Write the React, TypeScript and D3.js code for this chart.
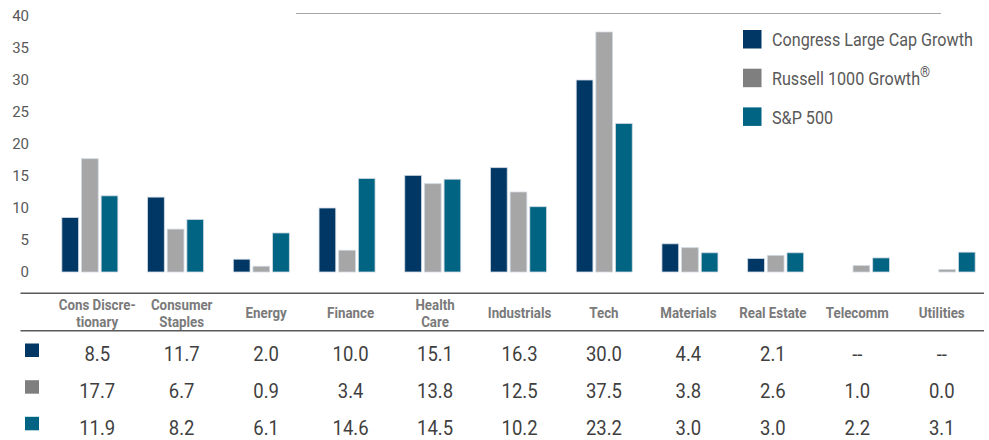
import React from "react";
import * as d3 from "d3";

const categories = ["Cons Discretionary", "Consumer Staples", "Energy", "Finance", "Health Care", "Industrials", "Tech", "Materials", "Real Estate", "Telecomm", "Utilities"];
const headerLines = [["Cons Discre-", "tionary"], ["Consumer", "Staples"], ["Energy"], ["Finance"], ["Health", "Care"], ["Industrials"], ["Tech"], ["Materials"], ["Real Estate"], ["Telecomm"], ["Utilities"]];
const seriesNames = ["Congress Large Cap Growth", "Russell 1000 Growth", "S&P 500"];
const congress: (number | null)[] = [8.5, 11.7, 2.0, 10.0, 15.1, 16.3, 30.0, 4.4, 2.1, null, null];
const russell: (number | null)[] = [17.7, 6.7, 0.9, 3.4, 13.8, 12.5, 37.5, 3.8, 2.6, 1.0, 0.0];
const sp500: (number | null)[] = [11.9, 8.2, 6.1, 14.6, 14.5, 10.2, 23.2, 3.0, 3.0, 2.2, 3.1];
const yTicks = [0, 5, 10, 15, 20, 25, 30, 35, 40];

const barColors = ["#003764", "#a6a6a6", "#006482"];
const swatchColors = ["#003764", "#7f7f7f", "#006482"];
const FONT = "Roboto, 'Noto Sans', sans-serif";

export default function App() {
  const W = 989, H = 440;
  const series = [congress, russell, sp500];
  const y = d3.scaleLinear().domain([0, 40]).range([272, 16]);
  const x0 = d3.scaleBand<string>().domain(categories).range([47, 990]).padding(0);
  const x1 = d3.scaleBand<string>().domain(seriesNames).range([-28, 28]).paddingInner(0.15);
  const xt = d3.scaleBand<string>().domain(categories).range([55, 984]).padding(0);
  const rowY = [354, 390.7, 427.3];
  const fmt = (v: number | null) => (v === null ? "--" : d3.format(".1f")(v));

  return (
    <svg width={W} height={H} style={{ position: "absolute", left: 0, top: 0, background: "#fff" }} fontFamily={FONT}>
      {/* top decorative line */}
      <line x1={296} x2={941} y1={13.5} y2={13.5} stroke="#a6a6a6" strokeWidth={1} />
      {/* y ticks */}
      {yTicks.map((t) => (
        <text key={t} x={29} y={y(t)} dy="0.35em" textAnchor="end" fontSize={15} fill="#595959">
          {t}
        </text>
      ))}
      {/* bars */}
      {categories.map((c, i) => (
        <g key={c} transform={`translate(${x0(c)! + x0.bandwidth() / 2},0)`}>
          {series.map((s, j) => {
            const v = s[i];
            if (v === null) return null;
            const top = Math.min(y(v), y(0) - 2.5);
            return (
              <rect
                key={j}
                x={x1(seriesNames[j])!}
                width={x1.bandwidth()}
                y={top}
                height={y(0) - top}
                fill={barColors[j]}
                stroke="#cfd8e2"
                strokeWidth={0.8}
              />
            );
          })}
        </g>
      ))}
      {/* legend */}
      {seriesNames.map((n, j) => (
        <g key={n} transform={`translate(743,${30 + j * 38.7})`}>
          <rect width={18.5} height={18.5} fill={swatchColors[j]} />
          <text transform="translate(29,9.5) scale(0.85,1)" dy="0.35em" fontSize={19} fill="#595959">
            {n}
            {j === 1 ? (
              <tspan fontSize={15} dy={-8}>®</tspan>
            ) : null}
          </text>
        </g>
      ))}
      {/* table lines */}
      <line x1={20.5} x2={984} y1={293.3} y2={293.3} stroke="#595959" strokeWidth={1.6} />
      <line x1={20.5} x2={984} y1={330.7} y2={330.7} stroke="#595959" strokeWidth={1.6} />
      {/* header */}
      {categories.map((c, i) => {
        const lines = headerLines[i];
        const cx = xt(c)! + xt.bandwidth() / 2;
        const ys = lines.length === 1 ? [313.3] : [305.3, 321.5];
        return lines.map((l, k) => (
          <text
            key={c + k}
            transform={`translate(${cx},${ys[k]}) scale(0.9,1)`}
            dy="0.35em"
            textAnchor="middle"
            fontSize={14.8}
            fontWeight={700}
            fill="#7a7a7a"
          >
            {l}
          </text>
        ));
      })}
      {/* rows */}
      {series.map((s, j) => (
        <g key={j}>
          <rect x={25} y={rowY[j] - 10.5} width={14} height={13.5} fill={swatchColors[j]} />
          {categories.map((c, i) => (
            <text
              key={c}
              transform={`translate(${xt(c)! + xt.bandwidth() / 2},${rowY[j]}) scale(0.88,1)`}
              dy="0.35em"
              textAnchor="middle"
              fontSize={21}
              fill="#3f3f3f"
            >
              {fmt(s[i])}
            </text>
          ))}
        </g>
      ))}
    </svg>
  );
}
